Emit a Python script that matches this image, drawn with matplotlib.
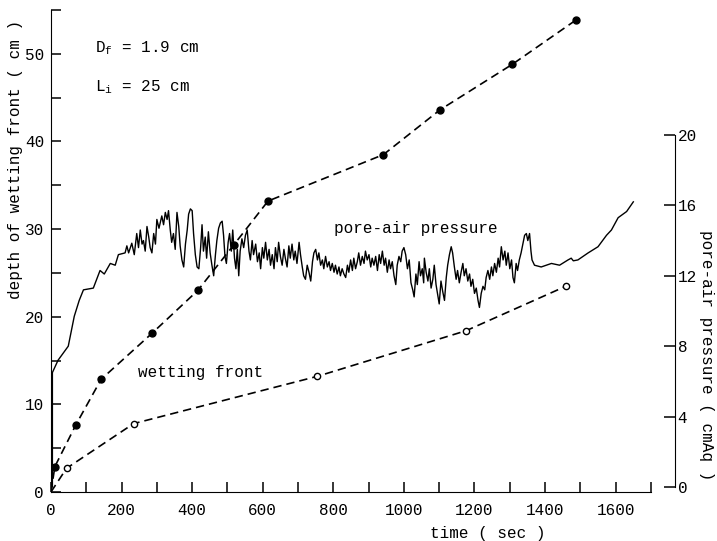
import matplotlib
matplotlib.use('Agg')
import matplotlib.pyplot as plt
from matplotlib.ticker import MultipleLocator

plt.rcParams['font.family'] = ['Liberation Mono', 'DejaVu Sans Mono']
plt.rcParams['mathtext.fontset'] = 'custom'
plt.rcParams['mathtext.rm'] = 'Liberation Mono'
plt.rcParams['mathtext.it'] = 'Liberation Mono'
plt.rcParams['font.size'] = 11.5

# depth of wetting front, closed circles (sec, cm)
t_closed = [0, 11, 71, 142, 286, 416, 518, 615, 942, 1102, 1307, 1489]
d_closed = [0, 2.9, 7.7, 12.85, 18.1, 23.0, 28.2, 33.2, 38.5, 43.6, 48.8, 53.9]

# depth of wetting front, open circles (sec, cm)
t_open = [0, 44, 234, 755, 1176, 1460]
d_open = [0, 2.7, 7.8, 13.2, 18.4, 23.5]

# pore-air pressure trace (sec, cmAq)
t_air = [0, 4, 4, 20, 49, 66, 80, 92, 120, 139, 151, 168, 182, 191, 210, 215, 220, 229,
         236, 243, 248, 253, 258, 262, 267, 272, 277, 281, 286, 291, 296, 300, 306, 314,
         319, 324, 329, 333, 338, 342, 347, 352, 357, 362, 366, 371, 376, 381, 386, 390,
         395, 400, 404, 409, 414, 419, 424, 428, 432, 437, 441, 446, 451, 456, 461, 466,
         470, 475, 480, 485, 489, 493, 497, 502, 506, 511, 515, 520, 524, 528, 532, 536,
         541, 546, 551, 556, 561, 565, 570, 574,
         580, 585, 590, 594, 599, 603, 608, 613, 618, 622, 627, 632, 636, 641, 645, 650,
         655, 660, 664, 669, 674, 678, 683, 688, 692, 697, 703, 707, 712, 716, 721, 726,
         731, 736, 741, 745, 750, 755, 759, 764, 769, 773, 778, 783, 788, 792, 797, 802,
         806, 811, 816, 820, 825, 830, 835, 840, 844, 849, 854, 858, 863, 868, 872, 877,
         882, 887, 891, 896, 901, 906, 910, 915, 920, 925, 930, 934, 939, 944, 948, 953,
         958, 962, 967, 972, 977, 981, 986, 991, 995, 1000,
         1005, 1010, 1015, 1020, 1025, 1029, 1034, 1038, 1043, 1047, 1052, 1056, 1058,
         1063, 1068, 1072, 1077, 1082, 1086, 1091, 1096, 1100, 1105, 1110, 1115, 1120,
         1124, 1129, 1134, 1138, 1143, 1148, 1152, 1157, 1162, 1167, 1171, 1176, 1181,
         1186, 1190, 1195, 1200, 1205, 1210, 1214, 1219, 1224, 1229, 1233, 1238, 1243,
         1248, 1252, 1257, 1262, 1267, 1271, 1276, 1281, 1286, 1290, 1295, 1300, 1305,
         1309, 1313, 1318, 1322, 1327, 1332, 1337, 1342, 1347, 1351, 1356, 1360, 1363,
         1370, 1389, 1418, 1441, 1465, 1474, 1480, 1493, 1522, 1550, 1574, 1588, 1607,
         1631, 1650]
p_air = [0, 0, 6.5, 7.2, 8.0, 9.7, 10.6, 11.2, 11.3, 12.3, 12.1, 12.7, 12.6, 13.2, 13.3, 13.7, 13.3, 13.85,
         13.2, 14.4, 13.6, 14.6, 13.8, 14.0, 13.4, 14.8, 14.2, 13.6, 13.3, 14.4, 13.8, 15.2, 14.7, 15.4,
         14.9, 15.6, 15.2, 15.7, 14.6, 13.9, 14.4, 13.5, 15.6, 14.8, 13.7, 12.9, 12.5, 13.8, 14.6, 15.5,
         15.8, 15.7, 14.4, 13.2, 12.5, 12.4, 13.6, 14.9, 13.4, 14.2, 13.0, 14.5, 13.3, 12.6, 12.0, 13.2,
         14.0, 14.7, 15.0, 15.1, 14.3, 13.1, 12.7, 13.9, 14.4, 13.4, 14.6, 13.0, 12.4, 13.5, 12.0, 13.4,
         14.1, 13.6, 14.3, 14.6, 13.4, 12.9, 14.0, 13.2,
         13.8, 12.8, 13.3, 12.4, 13.6, 13.0, 13.9, 12.9, 13.5, 12.6, 13.2, 12.4, 13.6, 12.8, 13.9, 13.1,
         12.6, 13.5, 13.0, 12.5, 13.7, 13.0, 13.8, 12.9, 13.4, 12.7, 13.9, 13.2, 12.5, 12.0, 11.8, 12.6,
         12.2, 11.7, 12.8, 13.3, 13.5, 12.9, 13.3, 12.6, 12.9, 12.4, 13.1, 12.5, 12.8, 12.3, 12.7, 12.2,
         12.6, 12.1, 12.5, 12.0, 12.4, 12.1, 11.9, 12.6, 12.2, 12.9, 12.3, 13.0, 12.4, 12.8, 13.3, 12.6,
         13.1, 12.7, 13.4, 12.9, 13.2, 12.5, 13.0, 12.6, 13.1, 12.3, 13.2, 12.7, 13.4, 12.6, 13.0, 12.2,
         12.9, 12.4, 12.8, 12.0, 11.5, 12.6, 13.1, 12.8, 13.4, 13.6,
         13.2, 12.4, 12.9, 11.6, 11.2, 10.8, 12.1, 11.5, 12.8, 12.0, 12.4, 11.6, 13.0,
         12.2, 11.7, 12.4, 11.3, 11.8, 12.6, 11.5, 10.9, 10.4, 11.7, 11.1, 10.6, 11.9,
         12.6, 13.2, 13.65, 13.3, 12.5, 11.8, 12.3, 11.6, 12.2, 12.7, 12.0, 12.4, 11.7,
         12.1, 11.4, 11.8, 11.0, 11.3, 10.6, 10.2, 11.0, 11.4, 11.2, 11.9, 12.3, 11.8,
         12.5, 12.0, 12.7, 12.2, 13.0, 12.5, 13.65, 12.9, 13.4, 12.6, 13.3, 12.4, 12.9,
         11.9, 11.6, 12.7, 12.3, 12.9, 13.3, 13.8, 14.3, 14.4, 14.0, 14.4, 13.4, 12.9,
         12.6, 12.5, 12.7, 12.6, 12.9, 13.0, 12.85, 12.9, 13.3, 13.65, 14.3, 14.6, 15.3,
         15.65, 16.2]

fig = plt.figure(figsize=(7.17, 5.41), dpi=100)
ax = fig.add_axes([0.0711, 0.0906, 0.8368, 0.8909])

ax.plot(t_closed, d_closed, color='black', lw=1.2, ls=(0, (5, 3)),
        marker='o', ms=5, mfc='black', mec='black', markevery=list(range(1, len(t_closed))))
ax.plot(t_open, d_open, color='black', lw=1.2, ls=(0, (5, 3)),
        marker='o', ms=4.5, mfc='white', mec='black', markevery=list(range(1, len(t_open))))

ax.set_xlim(0, 1700)
ax.set_ylim(0, 55)
for s in ['top', 'right']:
    ax.spines[s].set_visible(False)
ax.xaxis.set_major_locator(MultipleLocator(200))
ax.xaxis.set_minor_locator(MultipleLocator(100))
ax.yaxis.set_major_locator(MultipleLocator(10))
ax.yaxis.set_minor_locator(MultipleLocator(5))
ax.tick_params(which='both', direction='in', length=7, width=1.1)
ax.tick_params(axis='x', pad=8)
ax.tick_params(axis='y', pad=5)

ax.set_xlabel('time ( sec )')
ax.xaxis.set_label_coords(0.728, -0.07)
ax.set_ylabel('depth of wetting front ( cm )')
ax.yaxis.set_label_coords(-0.046, 0.689)

ax2 = ax.twinx()
ax2.plot(t_air, p_air, color='black', lw=1.0)
ax2.set_ylim(-0.285, 27.1)
for s in ['top', 'left', 'bottom']:
    ax2.spines[s].set_visible(False)
ax2.spines['right'].set_position(('axes', 1.04))
ax2.spines['right'].set_bounds(0, 20)
ax2.set_yticks([0, 4, 8, 12, 16, 20])
ax2.tick_params(axis='y', direction='in', length=8, width=1.1, pad=2)
ax2.set_ylabel('pore-air pressure ( cmAq )', rotation=-90, va='center')
ax2.yaxis.set_label_coords(1.093, 0.284)

ax.annotate(r'D$_\mathrm{f}$ = 1.9 cm', xy=(0.073, 0.92), xycoords='axes fraction', va='center')
ax.annotate(r'L$_\mathrm{i}$ = 25 cm', xy=(0.073, 0.84), xycoords='axes fraction', va='center')
ax.text(801, 30.1, 'pore-air pressure', va='center')
ax.text(247, 13.6, 'wetting front', va='center')

fig.savefig('out.png', dpi=100)
